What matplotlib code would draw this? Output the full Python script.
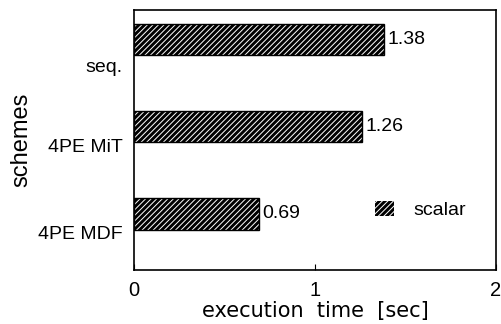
import numpy as np
import matplotlib.pyplot as plt
from matplotlib.patches import Patch

plt.rcParams['font.family'] = ['Liberation Sans', 'DejaVu Sans']
plt.rcParams['hatch.linewidth'] = 0.7

schemes = ['4PE MDF', '4PE MiT', 'seq.']
times = [0.69, 1.26, 1.38]
xticks = [0, 1, 2]

W, H = 502, 324
fig = plt.figure(figsize=(W / 100, H / 100), dpi=100)
ax = fig.add_axes([134 / W, (H - 270) / H, (496 - 134) / W, 260 / H])

pos = np.arange(len(schemes))
# black bars with thin white diagonal hatching, then a black outline on top
ax.barh(pos, times, height=0.36, color='black', edgecolor='white',
        hatch='//////', linewidth=0)
ax.barh(pos, times, height=0.36, fill=False, edgecolor='black', linewidth=1)

for p, t in zip(pos, times):
    ax.text(t + 0.02, p, f'{t:.2f}', va='center', ha='left', fontsize=14)

ax.set_xlim(0, 2)
ax.set_ylim(-0.642, 2.338)
ax.set_xticks(xticks)
ax.set_xticklabels([str(v) for v in xticks], fontsize=14.5)
ax.tick_params(axis='x', direction='in', length=4, pad=8)

# category labels sit a little below their bars
ax.set_yticks(pos - np.array([0.21, 0.22, 0.30]))
ax.set_yticklabels(schemes, fontsize=14)
ax.tick_params(axis='y', length=0, pad=8)

for s in ax.spines.values():
    s.set_linewidth(1.2)

ax.set_xlabel('execution  time  [sec]', fontsize=15, family='DejaVu Sans',
              labelpad=1)
ax.set_ylabel('schemes', fontsize=17, labelpad=4)

leg_patch = Patch(facecolor='black', edgecolor='white', hatch='//////',
                  linewidth=0)
ax.legend([leg_patch], ['scalar'], loc='center left', frameon=False,
          fontsize=14, handlelength=1.0, handleheight=0.8,
          handletextpad=1.0, borderpad=0, borderaxespad=0,
          bbox_to_anchor=(0.665, 0.23))

fig.savefig('out.png', dpi=100)
